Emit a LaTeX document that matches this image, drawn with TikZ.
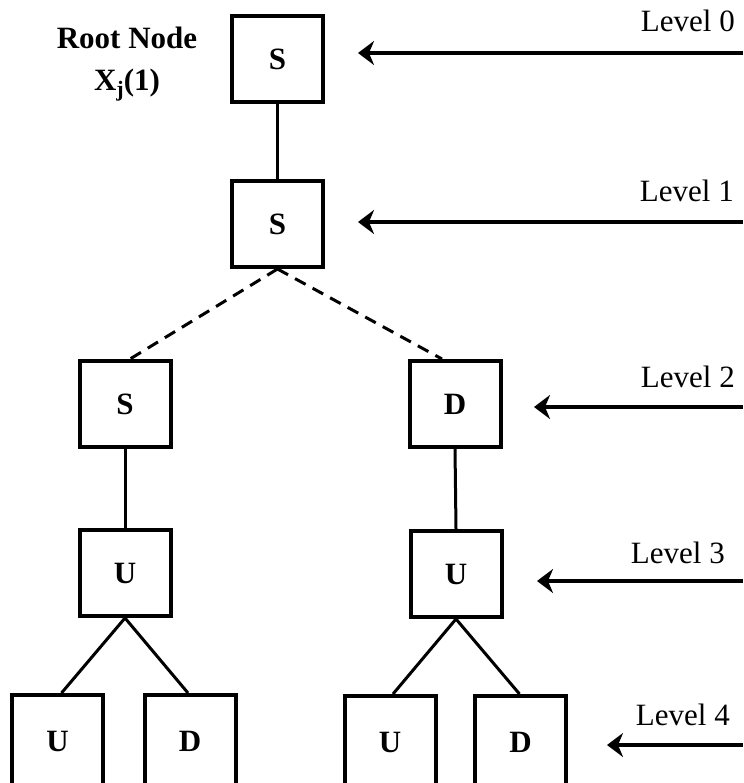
\documentclass[tikz,border=0pt]{standalone}
\usepackage{fontspec}
\setmainfont{Liberation Serif}
\usetikzlibrary{arrows.meta}
\begin{document}
\begin{tikzpicture}[x=1pt,y=-1pt,
  box/.style={draw=black,line width=4pt,minimum width=91pt,minimum height=86pt,inner sep=0pt,font=\fontsize{31}{33}\selectfont\bfseries},
  leafbox/.style={box,minimum height=92pt},
  conn/.style={line width=3pt},
  dconn/.style={line width=3pt,dash pattern=on 12pt off 8pt},
  lvl/.style={line width=3.5pt,-{Stealth[length=16pt,width=24pt,inset=5pt]}},
  lvltext/.style={anchor=base east,inner sep=0pt,font=\fontsize{31}{33}\selectfont}]
\useasboundingbox (0,0) rectangle (743,783);
\clip (0,0) rectangle (743,783);
% nodes
\node[box] (n0) at (277.5,59.5) {S};
\node[box] (n1) at (277.5,224) {S};
\node[box] (s2) at (125,404) {S};
\node[box] (d2) at (455,404) {D};
\node[box] (u3a) at (125,573) {U};
\node[box] (u3b) at (456,574) {U};
\node[leafbox] (u4a) at (57.5,741) {U};
\node[leafbox] (d4a) at (190,741) {D};
\node[leafbox] (u4b) at (390,742) {U};
\node[leafbox] (d4b) at (520.5,742) {D};
\node[align=center,inner sep=0pt,font=\fontsize{31}{42}\selectfont\bfseries] (root) at (127,64)
  {Root Node\\X\raisebox{-6pt}{\fontsize{22}{22}\selectfont j}(1)};
% connectors
\draw[conn] (n0.south) -- (n1.north);
\draw[dconn] (n1.south) -- ([xshift=5pt]s2.north);
\draw[dconn] (n1.south) -- ([xshift=-13pt]d2.north);
\draw[conn] (s2.south) -- (u3a.north);
\draw[conn] (d2.south) -- (u3b.north);
\draw[conn] (u3a.south) -- ([xshift=4pt]u4a.north);
\draw[conn] (u3a.south) -- ([xshift=-2pt]d4a.north);
\draw[conn] (u3b.south) -- ([xshift=3pt]u4b.north);
\draw[conn] (u3b.south) -- ([xshift=-1pt]d4b.north);
% level arrows
\coordinate (a0s) at (743,53);  \coordinate (a0e) at (358,53);
\coordinate (a1s) at (743,222); \coordinate (a1e) at (358,222);
\coordinate (a2s) at (743,407); \coordinate (a2e) at (534,407);
\coordinate (a3s) at (743,581); \coordinate (a3e) at (537,581);
\coordinate (a4s) at (743,745); \coordinate (a4e) at (607,745);
\draw[lvl] (a0s) -- (a0e);
\draw[lvl] (a1s) -- (a1e);
\draw[lvl] (a2s) -- (a2e);
\draw[lvl] (a3s) -- (a3e);
\draw[lvl] (a4s) -- (a4e);
\node[lvltext] (l0) at (735,32) {Level 0};
\node[lvltext] (l1) at (734,202) {Level 1};
\node[lvltext] (l2) at (735,387) {Level 2};
\node[lvltext] (l3) at (725,563) {Level 3};
\node[lvltext] (l4) at (730,725) {Level 4};
\end{tikzpicture}
\end{document}
